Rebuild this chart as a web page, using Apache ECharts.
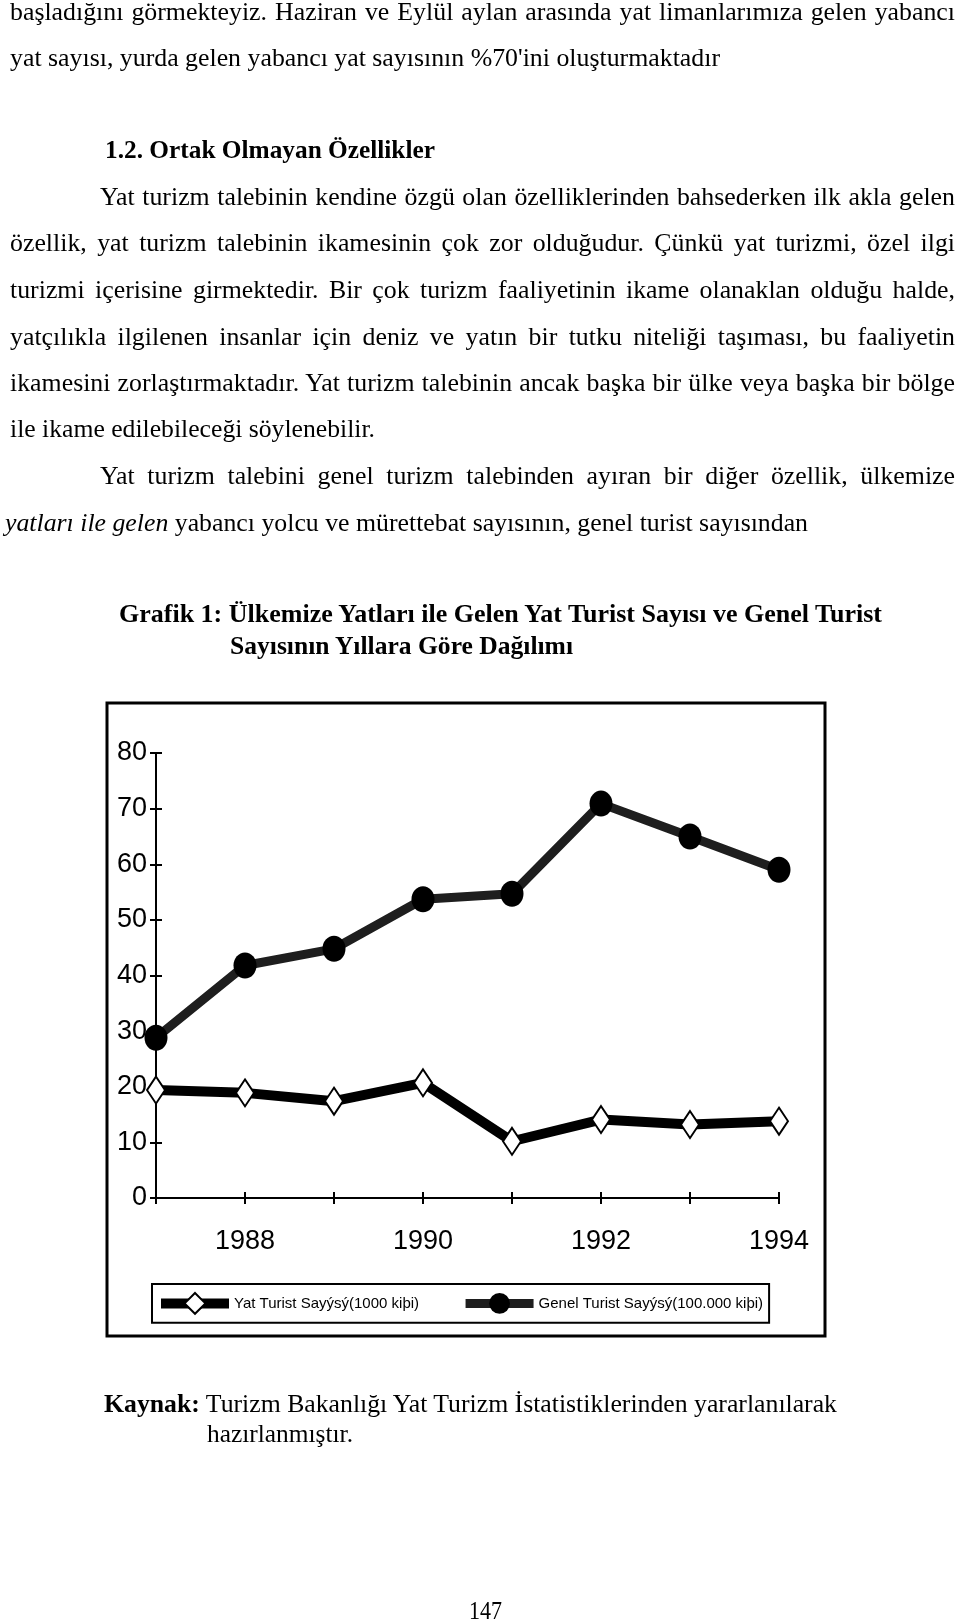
<!DOCTYPE html>
<html>
<head>
<meta charset="utf-8">
<script src="https://cdn.jsdelivr.net/npm/echarts@6/dist/echarts.min.js"></script>
<style>
html,body{margin:0;padding:0;background:#fff;}
#page{position:relative;width:960px;height:1623px;overflow:hidden;background:#fff;}
#chart{position:absolute;left:0;top:0;width:960px;height:1623px;}
#text{position:absolute;left:0;top:0;width:960px;height:1623px;pointer-events:none;}
.ln{position:absolute;white-space:nowrap;font-family:'Liberation Serif','Times New Roman',serif;font-size:25px;line-height:30px;color:#000;transform-origin:0 50%;}
.b{font-weight:bold;}
</style>
</head>
<body>
<div id="page"><div id="chart"></div><div id="text"></div></div>
<script>
// ---- chart data ----
const years = ['1987', '1988', '1989', '1990', '1991', '1992', '1993', '1994'];
const yatTuristValues = [19.4, 18.9, 17.4, 20.7, 10.2, 14.1, 13.2, 13.8];
const genelTuristValues = [28.8, 41.8, 44.8, 53.7, 54.7, 70.9, 65.0, 59.0];
const seriesNames = ['Yat Turist Sayýsý(1000 kiþi)', 'Genel Turist Sayýsý(100.000 kiþi)'];
const yMin = 0, yMax = 80, yStep = 10;

// ---- page text ----
const pageLines = [
  {h: 'başladığını görmekteyiz. Haziran ve Eylül aylan arasında yat limanlarımıza gelen yabancı', x0: 10, x1: 955, y: 13, mode: 'justify'},
  {h: "yat sayısı, yurda gelen yabancı yat sayısının %70'ini oluşturmaktadır", x0: 10, x1: 720, y: 59, mode: 'ref'},
  {h: '<span class="b">1.2. Ortak Olmayan Özellikler</span>', x0: 105, x1: 435, y: 151, mode: 'fit'},
  {h: 'Yat turizm talebinin kendine özgü olan özelliklerinden bahsederken ilk akla gelen', x0: 100, x1: 955, y: 198, mode: 'justify'},
  {h: 'özellik, yat turizm talebinin ikamesinin çok zor olduğudur. Çünkü yat turizmi, özel ilgi', x0: 10, x1: 955, y: 244, mode: 'justify'},
  {h: 'turizmi içerisine girmektedir. Bir çok turizm faaliyetinin ikame olanaklan olduğu halde,', x0: 10, x1: 955, y: 291, mode: 'justify'},
  {h: 'yatçılıkla ilgilenen insanlar için deniz ve yatın bir tutku niteliği taşıması, bu faaliyetin', x0: 10, x1: 955, y: 338, mode: 'justify'},
  {h: 'ikamesini zorlaştırmaktadır. Yat turizm talebinin ancak başka bir ülke veya başka bir bölge', x0: 10, x1: 955, y: 384, mode: 'justify'},
  {h: 'ile ikame edilebileceği söylenebilir.', x0: 10, x1: 375, y: 430, mode: 'fit'},
  {h: 'Yat turizm talebini genel turizm talebinden ayıran bir diğer özellik, ülkemize', x0: 100, x1: 955, y: 477, mode: 'justify'},
  {h: '<i>yatları ile gelen</i> yabancı yolcu ve mürettebat sayısının, genel turist sayısından', x0: 5, x1: 808, y: 524, mode: 'fit'},
  {h: '<span class="b">Grafik 1: Ülkemize Yatları ile Gelen Yat Turist Sayısı ve Genel Turist</span>', x0: 119, x1: 882, y: 615, mode: 'fit'},
  {h: '<span class="b">Sayısının Yıllara Göre Dağılımı</span>', x0: 230, x1: 573, y: 647, mode: 'fit'},
  {h: '<span class="b">Kaynak:</span> Turizm Bakanlığı Yat Turizm İstatistiklerinden yararlanılarak', x0: 104, x1: 837, y: 1405, mode: 'fit'},
  {h: 'hazırlanmıştır.', x0: 207, x1: 353, y: 1435, mode: 'fit'},
  {h: '147', x0: 469, x1: 502, y: 1612, mode: 'fit'}
];

(function buildText() {
  const holder = document.getElementById('text');
  const els = pageLines.map(function (L) {
    const d = document.createElement('div');
    d.className = 'ln';
    d.innerHTML = L.h;
    d.style.left = L.x0 + 'px';
    d.style.top = (L.y - 16) + 'px';
    holder.appendChild(d);
    return d;
  });
  let refScale = 0.92;
  pageLines.forEach(function (L, i) {
    if (L.mode === 'ref') {
      refScale = (L.x1 - L.x0) / els[i].getBoundingClientRect().width;
    }
  });
  pageLines.forEach(function (L, i) {
    const el = els[i];
    const w = el.getBoundingClientRect().width;
    let s;
    if (L.mode === 'justify') {
      s = refScale;
      const spaces = (el.textContent.match(/ /g) || []).length;
      const extra = ((L.x1 - L.x0) / s - w) / Math.max(spaces, 1);
      el.style.wordSpacing = extra + 'px';
    } else if (L.mode === 'ref') {
      s = refScale;
    } else {
      s = (L.x1 - L.x0) / w;
    }
    el.style.transform = 'scaleX(' + s + ')';
  });
})();

// ---- chart ----
const sans = "'Liberation Sans', Arial, sans-serif";
const chart = echarts.init(document.getElementById('chart'), null, {renderer: 'canvas'});
const axisLineStyle = {color: '#000', width: 2};
const option = {
  animation: false,
  backgroundColor: 'transparent',
  grid: {left: 156, right: 181, top: 753, bottom: 425, containLabel: false},
  xAxis: [
    {
      type: 'category', data: years, boundaryGap: false, position: 'bottom',
      axisLine: {show: true, lineStyle: axisLineStyle},
      axisTick: {show: true, interval: 0, length: 6, lineStyle: axisLineStyle},
      axisLabel: {
        interval: function (i) { return i % 2 === 1; },
        margin: 30, fontFamily: sans, fontSize: 27, color: '#000'
      },
      splitLine: {show: false}
    },
    {
      type: 'category', data: years, boundaryGap: false, position: 'bottom',
      axisLine: {show: false},
      axisTick: {show: true, inside: true, interval: 0, length: 6, lineStyle: axisLineStyle},
      axisLabel: {show: false},
      splitLine: {show: false}
    }
  ],
  yAxis: [
    {
      type: 'value', min: yMin, max: yMax, interval: yStep, position: 'left',
      axisLine: {show: true, lineStyle: axisLineStyle},
      axisTick: {show: true, length: 6, lineStyle: axisLineStyle},
      axisLabel: {margin: 9, fontFamily: sans, fontSize: 27, color: '#000'},
      splitLine: {show: false}
    },
    {
      type: 'value', min: yMin, max: yMax, interval: yStep, position: 'left',
      axisLine: {show: false},
      axisTick: {show: true, inside: true, length: 6, lineStyle: axisLineStyle},
      axisLabel: {show: false},
      splitLine: {show: false}
    }
  ],
  legend: {
    left: 152, top: 1284, orient: 'horizontal',
    padding: [8, 6, 8, 4], itemGap: 42, itemWidth: 68, itemHeight: 26,
    borderColor: '#000', borderWidth: 2,
    lineStyle: {width: 'inherit'},
    textStyle: {fontFamily: sans, fontSize: 15, color: '#000'},
    data: seriesNames
  },
  series: [
    {
      name: seriesNames[0], type: 'line', data: yatTuristValues,
      xAxisIndex: 0, yAxisIndex: 0,
      symbol: 'diamond', symbolSize: [18, 27], showAllSymbol: true,
      lineStyle: {color: '#000', width: 10},
      itemStyle: {color: '#fff', borderColor: '#000', borderWidth: 2},
      z: 3
    },
    {
      name: seriesNames[1], type: 'line', data: genelTuristValues,
      xAxisIndex: 0, yAxisIndex: 0,
      symbol: 'circle', symbolSize: [23, 26], showAllSymbol: true,
      lineStyle: {color: '#1e1e1e', width: 9},
      itemStyle: {color: '#000', borderColor: '#000', borderWidth: 0},
      z: 4
    }
  ],
  graphic: [
    {
      type: 'rect', silent: true, z: 0,
      shape: {x: 107, y: 703, width: 718, height: 633},
      style: {fill: 'none', stroke: '#000', lineWidth: 3}
    }
  ]
};
chart.setOption(option);
</script>
</body>
</html>
